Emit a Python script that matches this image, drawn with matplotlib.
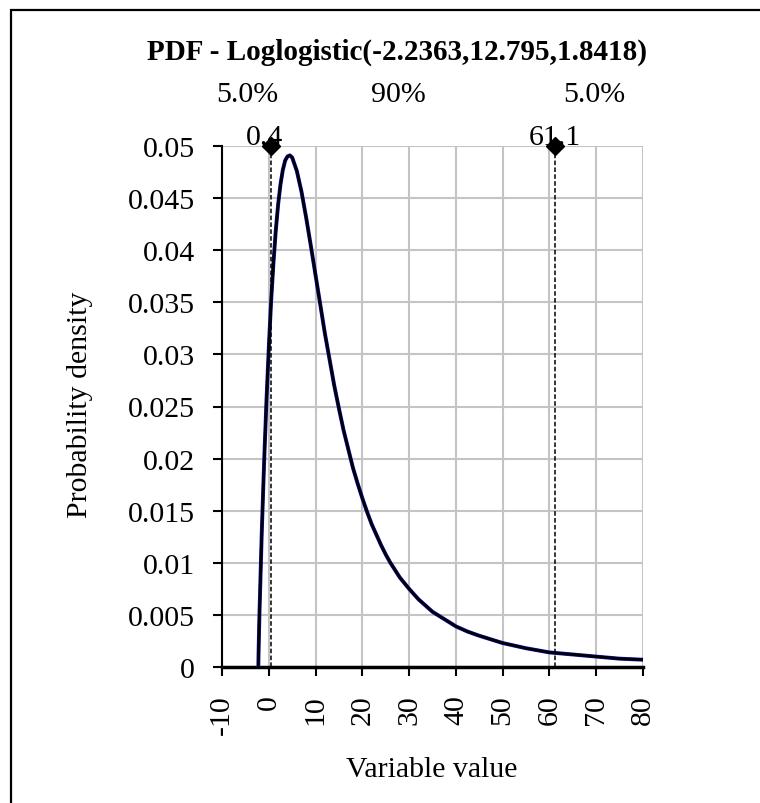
import matplotlib
matplotlib.use('Agg')
import matplotlib.pyplot as plt
import matplotlib.transforms as mtrans
from matplotlib.patches import Rectangle

# ---- data ----
title = "PDF - Loglogistic(-2.2363,12.795,1.8418)"
x_vals = [-2.2363, -2.2, -2.1, -2.0, -1.5, -1.0, -0.5, 0.0, 0.5, 1.0, 1.5, 2.0,
          2.5, 3.0, 3.5, 4.0, 4.5, 5.0, 6.0, 7.0, 8.0, 9.0, 10.0, 11.0, 12.0,
          13.0, 14.0, 15.0, 16.0, 17.0, 18.0, 19.0, 20.0, 21.0, 22.0, 24.0,
          25.0, 26.0, 27.0, 28.0, 30.0, 32.0, 33.0, 35.0, 37.5, 40.0, 42.5,
          45.0, 50.0, 55.0, 60.0, 65.0, 70.0, 75.0, 80.0]
pdf_vals = [0.0, 0.0010, 0.0031, 0.0050, 0.0129, 0.0196, 0.0255, 0.0306, 0.0351,
            0.0388, 0.0419, 0.0444, 0.0463, 0.0477, 0.0486, 0.0490, 0.0491,
            0.0489, 0.0476, 0.0456, 0.0431, 0.0404, 0.0376, 0.0348, 0.0320,
            0.0295, 0.0270, 0.0248, 0.0227, 0.0209, 0.0191, 0.0176, 0.0162,
            0.0149, 0.0137, 0.0117, 0.0108, 0.0100, 0.0093, 0.0086, 0.0075,
            0.0065, 0.0061, 0.0053, 0.0046, 0.0039, 0.0034, 0.0030, 0.0023,
            0.0018, 0.0014, 0.0012, 0.0010, 0.0008, 0.0007]
marker_x = [0.4, 61.1]
marker_labels = ["0.4", "61.1"]
pct_labels = ["5.0%", "90%", "5.0%"]
pct_x = [-4.5, 27.6, 69.5]
x_ticks = [-10, 0, 10, 20, 30, 40, 50, 60, 70, 80]
x_tick_labels = ["-10", "0", "10", "20", "30", "40", "50", "60", "70", "80"]
y_ticks = [0, 0.005, 0.01, 0.015, 0.02, 0.025, 0.03, 0.035, 0.04, 0.045, 0.05]
y_tick_labels = ["0", "0.005", "0.01", "0.015", "0.02", "0.025", "0.03",
                 "0.035", "0.04", "0.045", "0.05"]
x_label = "Variable value"
y_label = "Probability density"

plt.rcParams['font.family'] = ['Liberation Serif', 'DejaVu Serif']
FS = 21.5

W, H = 760, 804
fig = plt.figure(figsize=(W / 100, H / 100), dpi=100)
ax = fig.add_axes([222 / W, 1 - 668 / H, (643 - 222) / W, (668 - 147) / H])
ax.set_xlim(-10, 80)
ax.set_ylim(0, 0.05)

ax.set_xticks(x_ticks)
ax.set_xticklabels(x_tick_labels, rotation=90)
ax.set_yticks(y_ticks)
ax.set_yticklabels(y_tick_labels)
ax.grid(True, color='#c4c4c4', lw=1.5)
ax.set_axisbelow(True)
for s in ['top', 'right']:
    ax.spines[s].set_visible(False)
ax.spines['left'].set_linewidth(1.5)
ax.spines['bottom'].set_linewidth(2.5)
ax.tick_params(axis='both', direction='out', length=6.5, width=1.5,
               labelsize=FS, colors='black', pad=13)

# curve
ax.plot(x_vals, pdf_vals, color='#1010c0', lw=2.8, solid_joinstyle='round', zorder=3)
ax.plot(x_vals, pdf_vals, color='black', lw=2.0, solid_joinstyle='round', zorder=4)

# percentile lines and markers
for mx, ml, dx in zip(marker_x, marker_labels, [-6, 0]):
    ax.plot([mx, mx], [0, 0.05], color='black', lw=1.1, ls=(0, (3, 1.5)), zorder=5)
    ax.plot([mx], [0.05], marker='D', color='black', markersize=9, clip_on=False, zorder=6)
    tr = ax.transData + mtrans.ScaledTranslation(dx / 100, 2 / 100, fig.dpi_scale_trans)
    ax.text(mx, 0.05, ml, transform=tr, ha='center', va='baseline', fontsize=FS)

btr = mtrans.blended_transform_factory(ax.transData, fig.transFigure)
for px, pl in zip(pct_x, pct_labels):
    ax.text(px, 1 - 95 / H, pl, transform=btr, ha='center', va='center', fontsize=FS)

fig.text(397 / W, 1 - 52 / H, title, ha='center', va='center', fontsize=21,
         fontweight='bold')
fig.text(80 / W, 1 - 405 / H, y_label, rotation=90, ha='center', va='center', fontsize=FS)
fig.text(432 / W, 1 - 770 / H, x_label, ha='center', va='center', fontsize=FS)

fig.patches.append(Rectangle((11 / W, -0.5), 2, (1 - 10.5 / H) + 0.5,
                             transform=fig.transFigure, fill=False, lw=1.6,
                             ec='black'))

fig.savefig('out.png', dpi=100)
